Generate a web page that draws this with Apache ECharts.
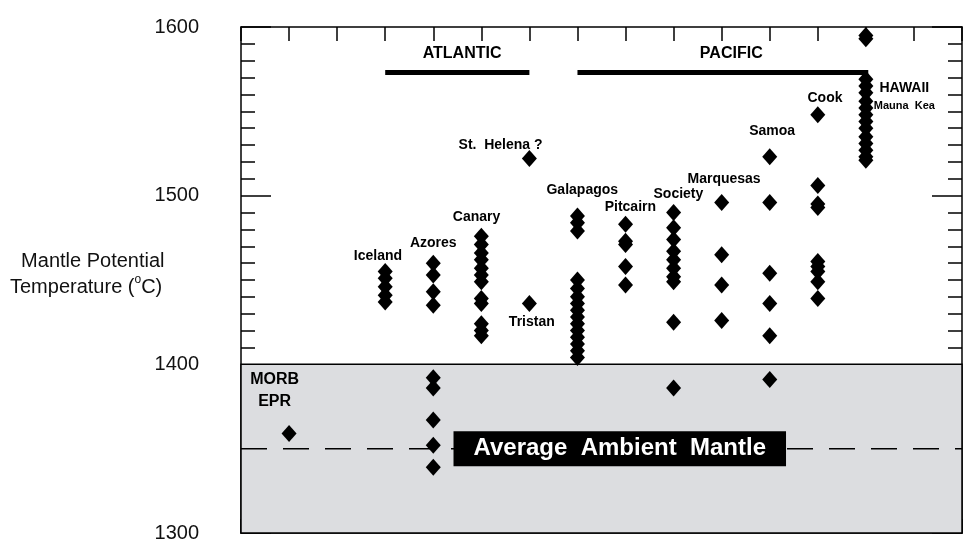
<!DOCTYPE html>
<html><head><meta charset="utf-8">
<script src="https://cdn.jsdelivr.net/npm/echarts@6/dist/echarts.min.js"></script>
<style>html,body{margin:0;padding:0;background:#fff}#c{width:963px;height:544px}</style>
</head><body><div id="c"></div>
<script>
// island columns (x position) and temperatures
const morb = [1359];
const iceland = [1455, 1451, 1446, 1441, 1437];
const azores = [1460, 1453, 1443, 1435, 1392, 1386, 1367, 1352, 1339];
const canary = [1476, 1471, 1466, 1462, 1457, 1453, 1449, 1439, 1436, 1424, 1420, 1417];
const tristan = [1436];
const stHelena = [1522];
const galapagos = [1488, 1484, 1479, 1450, 1445, 1440, 1436, 1432, 1428, 1424, 1420, 1416, 1412, 1408, 1404];
const pitcairn = [1483, 1473, 1471, 1458, 1447];
const society = [1490, 1481, 1474, 1467, 1462, 1457, 1452, 1449, 1425, 1386];
const marquesas = [1496, 1465, 1447, 1426];
const samoa = [1523, 1496, 1454, 1436, 1417, 1391];
const cook = [1548, 1506, 1495, 1493, 1461, 1458, 1455, 1449, 1439];
const hawaii = [1595, 1593, 1569, 1565, 1561, 1556, 1552, 1548, 1544, 1540, 1535, 1531, 1527, 1523, 1521];

const columns = [
  [1, morb], [3, iceland], [4, azores], [5, canary], [6, tristan], [6, stHelena],
  [7, galapagos], [8, pitcairn], [9, society], [10, marquesas], [11, samoa], [12, cook], [13, hawaii]
];

// labels: [x, y, text, fontSize]
const labels = [
  [2.85, 1464, 'Iceland', 14], [4, 1472, 'Azores', 14], [4.9, 1487, 'Canary', 14],
  [5.4, 1530, 'St.  Helena ?', 14], [6.05, 1425, 'Tristan', 14], [7.1, 1503, 'Galapagos', 14],
  [8.1, 1493, 'Pitcairn', 14], [9.1, 1501, 'Society', 14], [10.05, 1510, 'Marquesas', 14],
  [11.05, 1538, 'Samoa', 14], [12.15, 1558, 'Cook', 14], [13.8, 1564, 'HAWAII', 14],
  [13.8, 1553, 'Mauna  Kea', 11], [0.7, 1391, 'MORB', 16], [0.7, 1378, 'EPR', 16],
  [4.6, 1584, 'ATLANTIC', 16], [10.2, 1584, 'PACIFIC', 16]
];
const atlantic = [3, 6];
const pacific = [7, 13.05];
const barLevel = 1573;
const ambient = 1350;

const pts = [];
columns.forEach(c => c[1].forEach(v => pts.push([c[0], v])));

const chart = echarts.init(document.getElementById('c'));
const font = 'Liberation Sans, Arial, sans-serif';
const tickStyle = {color: '#000', width: 1.5};
const yAxisBase = {
  type: 'value', min: 1300, max: 1600, interval: 100,
  axisLine: {show: true, onZero: false, lineStyle: {color: '#000', width: 1.5}},
  axisTick: {inside: true, length: 30, lineStyle: tickStyle},
  minorTick: {show: true, splitNumber: 10, length: 14, lineStyle: tickStyle},
  splitLine: {show: false}
};
const option = {
  animation: false,
  grid: {left: 241, right: 1, top: 27, bottom: 11},
  xAxis: [
    {type: 'value', min: 0, max: 15, interval: 1, position: 'bottom',
     axisLine: {onZero: false, lineStyle: {color: '#000', width: 1.5}},
     axisTick: {inside: true, length: 14, lineStyle: tickStyle},
     axisLabel: {show: false}, splitLine: {show: false}},
    {type: 'value', min: 0, max: 15, interval: 1, position: 'top',
     axisLine: {onZero: false, lineStyle: {color: '#000', width: 1.5}},
     axisTick: {inside: true, length: 14, lineStyle: tickStyle},
     axisLabel: {show: false}, splitLine: {show: false}}
  ],
  yAxis: [
    Object.assign({}, yAxisBase, {position: 'left',
     axisLabel: {color: '#111', fontSize: 20, fontFamily: font, margin: 42, formatter: v => String(v)}}),
    Object.assign({}, yAxisBase, {position: 'right', axisLabel: {show: false}})
  ],
  graphic: [{
    type: 'text', left: 10, top: 248,
    style: {
      text: '  Mantle Potential\nTemperature ({s|o}C)', fontSize: 20, fontFamily: font,
      fill: '#111', lineHeight: 26, align: 'center',
      rich: {s: {fontSize: 12, verticalAlign: 'top', fontFamily: font, fill: '#111'}}
    }
  }],
  series: [
    {type: 'line', data: [], markArea: {silent: true,
      itemStyle: {color: '#dcdde0', borderColor: '#000', borderWidth: 1.5},
      data: [[{yAxis: 1300, xAxis: 0}, {yAxis: 1400, xAxis: 15}]]}},
    {type: 'line', data: [[0, ambient], [15, ambient]], symbol: 'none', z: 3,
     lineStyle: {color: '#000', width: 1.5, type: [26, 16]}},
    {type: 'line', data: [[atlantic[0], barLevel], [atlantic[1], barLevel]], symbol: 'none',
     lineStyle: {color: '#000', width: 5}},
    {type: 'line', data: [[pacific[0], barLevel], [pacific[1], barLevel]], symbol: 'none',
     lineStyle: {color: '#000', width: 5}},
    {type: 'scatter', data: pts, symbol: 'diamond', symbolSize: [15, 17], z: 5,
     itemStyle: {color: '#000', opacity: 1}},
    {type: 'scatter', data: [[7.88, ambient]], symbolSize: 0, z: 10,
     itemStyle: {opacity: 1},
     label: {show: true, position: 'inside', formatter: 'Average  Ambient  Mantle',
       color: '#fff', fontWeight: 'bold', fontSize: 24, fontFamily: font,
       backgroundColor: '#000', padding: [6, 20, 5, 20]}},
    {type: 'scatter', symbolSize: 0, z: 10, itemStyle: {opacity: 1},
     data: labels.map(l => ({value: [l[0], l[1]], label: {fontSize: l[3]}, name: l[2]})),
     label: {show: true, position: 'inside', formatter: p => p.name,
       color: '#000', fontWeight: 'bold', fontFamily: font}}
  ]
};
chart.setOption(option);
</script></body></html>
